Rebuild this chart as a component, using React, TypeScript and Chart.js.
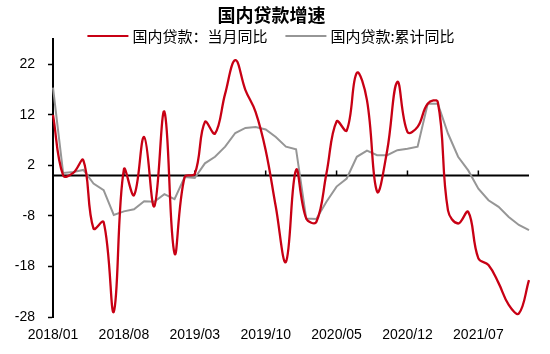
import React, { useEffect, useRef } from "react";
import { Chart, registerables } from "chart.js";

Chart.register(...registerables);

const title = "国内贷款增速";
const seriesNames = ["国内贷款：当月同比", "国内贷款:累计同比"];

const months = [
  "2018/01", "2018/02", "2018/03", "2018/04", "2018/05", "2018/06", "2018/07", "2018/08", "2018/09", "2018/10", "2018/11", "2018/12",
  "2019/01", "2019/02", "2019/03", "2019/04", "2019/05", "2019/06", "2019/07", "2019/08", "2019/09", "2019/10", "2019/11", "2019/12",
  "2020/01", "2020/02", "2020/03", "2020/04", "2020/05", "2020/06", "2020/07", "2020/08", "2020/09", "2020/10", "2020/11", "2020/12",
  "2021/01", "2021/02", "2021/03", "2021/04", "2021/05", "2021/06", "2021/07", "2021/08", "2021/09", "2021/10", "2021/11", "2021/12",
];

const monthlyYoY = [
  12, 0.0, 0.5, 3.0, -10.5, -9.2, -27, 1.2, -3.9, 7.6, -6.1, 12.6,
  -15.4, -0.3, 0.3, 10.6, 8.3, 16.2, 22.8, 16.9, 12.6, 5.0, -6.2, -17.1,
  1.1, -8.5, -9.2, 0.4, 10.7, 8.9, 20.3, 14.9, -3.2, 5.0, 18.5, 8.6,
  9.6, 14.2, 14.5, -6.9, -9.5, -7.2, -16.4, -17.7, -21.3, -25.6, -27.3, -20.7,
];

const cumulativeYoY = [
  17.4, 0.5, 0.7, 1.1, -1.6, -2.9, -7.8, -7.1, -6.7, -5.1, -5.2, -3.7,
  -4.7, -0.3, -0.5, 2.4, 3.7, 5.7, 8.4, 9.4, 9.6, 9.1, 7.6, 5.7,
  5.2, -8.5, -8.6, -5.2, -2.2, -0.6, 3.7, 4.9, 4.0, 4.0, 5.0, 5.3,
  5.7, 14.2, 14.2, 8.3, 3.7, 1.0, -2.6, -4.9, -6.2, -8.2, -9.8, -10.8,
];

const yTicks = [-28, -18, -8, 2, 12, 22];
const yMin = -28;
const yMax = 27;
const labelStep = 7;

const RED = "rgb(200,0,20)";
const GRAY = "rgb(150,150,150)";
const CJK = "'Noto Sans CJK SC', 'Noto Sans', sans-serif";
const NUM = "'Liberation Sans', Arial, sans-serif";

const zeroLinePlugin = {
  id: "zeroLine",
  beforeDatasetsDraw(chart: any) {
    const { ctx, chartArea, scales } = chart;
    const y = scales.y.getPixelForValue(0);
    ctx.save();
    ctx.strokeStyle = "#000";
    ctx.lineWidth = 2;
    ctx.beginPath();
    ctx.moveTo(chartArea.left, y);
    ctx.lineTo(chartArea.right, y);
    ctx.stroke();
    ctx.lineWidth = 1.5;
    ctx.beginPath();
    months.forEach((_, i) => {
      if (i > 0 && i % labelStep === 0) {
        const x = scales.x.getPixelForValue(i);
        ctx.moveTo(x, y);
        ctx.lineTo(x, y - 5);
      }
    });
    ctx.stroke();
    ctx.restore();
  },
};

// Legend drawn from the chart's own datasets (line sample + label), placed under the title.
const lineLegendPlugin = {
  id: "lineLegend",
  afterDraw(chart: any) {
    const { ctx } = chart;
    const sampleW = 41;
    const gap = 4;
    const itemGap = 18;
    const cy = 36;
    ctx.save();
    ctx.font = `15px ${CJK}`;
    ctx.textBaseline = "middle";
    ctx.textAlign = "left";
    const items = chart.data.datasets.map((ds: any) => ({
      label: ds.label,
      color: ds.borderColor,
      w: sampleW + gap + ctx.measureText(ds.label).width,
    }));
    const total = items.reduce((s: number, it: any) => s + it.w, 0) + itemGap * (items.length - 1);
    let x = 271 - total / 2;
    items.forEach((it: any) => {
      ctx.strokeStyle = it.color;
      ctx.lineWidth = 2;
      ctx.beginPath();
      ctx.moveTo(x, cy);
      ctx.lineTo(x + sampleW, cy);
      ctx.stroke();
      ctx.fillStyle = "#000";
      ctx.fillText(it.label, x + sampleW + gap, cy);
      x += it.w + itemGap;
    });
    ctx.restore();
  },
};

export default function App() {
  const ref = useRef<HTMLCanvasElement>(null);
  useEffect(() => {
    if (!ref.current) return;
    const chart = new Chart(ref.current, {
      type: "line",
      data: {
        labels: months,
        datasets: [
          {
            label: seriesNames[0],
            data: monthlyYoY,
            borderColor: RED,
            backgroundColor: RED,
            borderWidth: 2.3,
            pointRadius: 0,
            tension: 0.4,
          },
          {
            label: seriesNames[1],
            data: cumulativeYoY,
            borderColor: GRAY,
            backgroundColor: GRAY,
            borderWidth: 2,
            pointRadius: 0,
            tension: 0,
          },
        ],
      },
      options: {
        responsive: false,
        animation: false,
        layout: { padding: { left: 14, right: 21, top: 0, bottom: 0 } },
        plugins: {
          title: {
            display: true,
            text: title,
            color: "#000",
            font: { family: CJK, size: 18, weight: "bold" },
            padding: { top: 4, bottom: 13.4 },
          },
          legend: { display: false },
          tooltip: { enabled: false },
        },
        scales: {
          x: {
            type: "category",
            offset: false,
            grid: { display: false, drawTicks: false },
            border: { display: false },
            afterFit(scale: any) {
              scale.height = 37;
            },
            ticks: {
              autoSkip: false,
              maxRotation: 0,
              padding: 10,
              color: "#000",
              font: { family: NUM, size: 14 },
              callback: (_v: any, i: number) => (i % labelStep === 0 ? months[i] : null),
            },
          },
          y: {
            min: yMin,
            max: yMax,
            afterBuildTicks(scale: any) {
              scale.ticks = yTicks.map((v) => ({ value: v }));
            },
            afterFit(scale: any) {
              scale.width = 39;
            },
            grid: { drawOnChartArea: false, drawTicks: true, tickLength: 5, tickColor: "#000", tickWidth: 1.5 },
            border: { color: "#000", width: 2 },
            ticks: {
              padding: 13,
              color: "#000",
              font: { family: NUM, size: 14 },
              callback: (v: any) => String(v),
            },
          },
        },
      },
      plugins: [zeroLinePlugin, lineLegendPlugin],
    });
    return () => chart.destroy();
  }, []);
  return (
    <div style={{ position: "absolute", left: 0, top: 0, width: 550, height: 354, background: "#fff" }}>
      <canvas ref={ref} width={550} height={354} style={{ display: "block" }} />
    </div>
  );
}
